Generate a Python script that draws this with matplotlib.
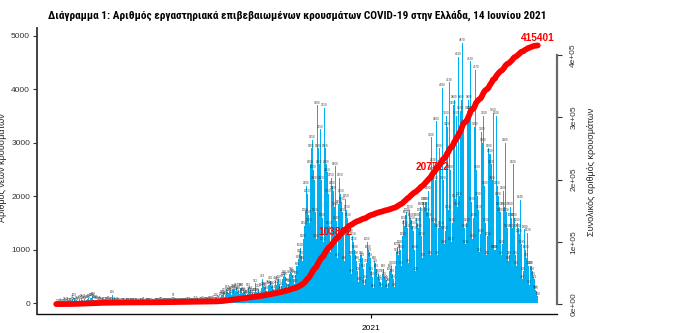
import numpy as np
import pandas as pd
import matplotlib
matplotlib.use("Agg")
import matplotlib.pyplot as plt
from matplotlib import font_manager

# ---------------- data ----------------
start_date = "2020-02-26"
cases_2020_02 = [1, 2, 0, 4]
cases_2020_03 = [0, 0, 0, 2, 22, 14, 4, 27, 11, 5, 10, 17, 73, 38, 103, 21, 56, 31, 46, 77,
                 43, 94, 71, 48, 78, 52, 71, 74, 95, 60, 102]
cases_2020_04 = [103, 129, 60, 62, 58, 62, 41, 33, 48, 25, 20, 40, 33, 22, 25, 23, 56, 10, 25, 40,
                 156, 16, 24, 15, 10, 22, 15, 12, 9, 5]
cases_2020_05 = [7, 12, 10, 7, 5, 10, 12, 10, 6, 10, 16, 20, 10, 9, 12, 9, 1, 3, 3, 16,
                 8, 29, 2, 3, 3, 10, 19, 13, 10, 9, 2]
cases_2020_06 = [1, 3, 5, 15, 17, 12, 20, 23, 33, 10, 16, 11, 10, 11, 10, 10, 14, 17, 22, 97,
                 36, 14, 11, 9, 11, 8, 12, 11, 14, 12]
cases_2020_07 = [10, 14, 12, 23, 13, 27, 18, 17, 16, 12, 41, 15, 44, 20, 18, 15, 33, 29, 43, 21,
                 26, 22, 34, 34, 40, 51, 25, 57, 26, 75, 36]
cases_2020_08 = [110, 34, 75, 45, 77, 120, 153, 151, 203, 121, 151, 262, 204, 191, 230, 217, 161, 269, 262, 235,
                 284, 210, 228, 168, 293, 284, 193, 213, 205, 168, 152]
cases_2020_09 = [169, 293, 218, 243, 168, 194, 125, 205, 372, 207, 196, 272, 151, 122, 294, 453, 319, 313, 302, 238,
                 146, 342, 338, 420, 320, 325, 254, 186, 416, 343]
cases_2020_10 = [400, 450, 360, 240, 320, 460, 500, 540, 490, 380, 280, 360, 540, 590, 560, 530, 450, 370, 520, 690,
                 820, 930, 1040, 890, 800, 1200, 1450, 1700, 2200, 2050, 1650]
cases_2020_11 = [1500, 2600, 2900, 3050, 2500, 2300, 1700, 1200, 3700, 2900, 2600, 3250, 2300, 1600, 1150, 3650,
                 2900, 2600, 2450, 2050, 1450, 950, 2350, 2200, 2100, 1800, 2560, 1540, 850, 1850]
cases_2020_12 = [2350, 2050, 1900, 1700, 1300, 800, 1950, 1750, 1600, 1400, 1300, 900, 550, 1250, 1150, 1000,
                 900, 800, 600, 400, 750, 900, 850, 650, 350, 450, 750, 1150, 1000, 950, 850]
cases_2021_01 = [600, 500, 280, 800, 750, 650, 500, 550, 450, 400, 300, 550, 650, 500, 450, 430, 280, 380,
                 600, 650, 700, 550, 450, 300, 700, 950, 1050, 900, 1100, 1000, 700]
cases_2021_02 = [1250, 1550, 1450, 1650, 1700, 1400, 750, 1750, 1600, 1550, 1450, 1350, 1000, 600, 1600, 1500,
                 1400, 1700, 1800, 1250, 850, 1900, 1800, 1900, 1700, 2100, 1600, 900]
cases_2021_03 = [3100, 2470, 2630, 1500, 2300, 3400, 900, 1400, 2900, 2600, 1450, 4030, 2300, 1100, 1350, 3500,
                 3300, 1750, 4130, 2500, 1150, 1500, 3700, 3800, 1950, 3500, 1800, 4610, 2000, 3600, 3800]
cases_2021_04 = [4870, 3300, 1400, 1100, 1500, 3600, 3800, 3600, 4520, 1900, 1200, 1600, 3300, 4370, 2500, 2000,
                 1750, 950, 1300, 3200, 3000, 3500, 2200, 1500, 900, 1250, 2900, 2800, 2600, 2300]
cases_2021_05 = [3560, 1000, 1000, 3500, 2200, 2000, 1800, 1700, 900, 1100, 2100, 1800, 3000, 1700, 1400, 800,
                 900, 1800, 1600, 1400, 2600, 1600, 900, 700, 1500, 1400, 1300, 1940, 1100, 450, 600]
cases_2021_06 = [1380, 1000, 850, 1320, 700, 350, 700, 700, 600, 500, 450, 250, 239, 130]

title = ("Διάγραμμα 1: Αριθμός εργαστηριακά επιβεβαιωμένων κρουσμάτων COVID-19 "
         "στην Ελλάδα, 14 Ιουνίου 2021")
ylabel_left = "Αριθμός νέων κρουσμάτων"
ylabel_right = "Συνολικός αριθμός κρουσμάτων"
left_ticks = [0, 1000, 2000, 3000, 4000, 5000]
right_ticks = [0, 100000, 200000, 300000, 400000]
right_tick_labels = ["0e+00", "1e+05", "2e+05", "3e+05", "4e+05"]
x_tick_date = "2021-01-01"
x_tick_label = "2021"

# ---------------- derived ----------------
daily = np.array(cases_2020_02 + cases_2020_03 + cases_2020_04 + cases_2020_05 + cases_2020_06 +
                 cases_2020_07 + cases_2020_08 + cases_2020_09 + cases_2020_10 + cases_2020_11 +
                 cases_2020_12 + cases_2021_01 + cases_2021_02 + cases_2021_03 + cases_2021_04 +
                 cases_2021_05 + cases_2021_06)
dates = pd.date_range(start_date, periods=len(daily), freq="D")
x = np.asarray((dates - dates[0]).days, dtype=float)
cumulative = np.cumsum(daily)
total = cumulative[-1]


def pick(*names):
    for n in names:
        try:
            font_manager.findfont(font_manager.FontProperties(family=n), fallback_to_default=False)
            return n
        except Exception:
            pass
    return "DejaVu Sans"


narrow = pick("Liberation Sans Narrow", "Roboto Condensed", "Liberation Sans")
regular = pick("Liberation Sans", "Arimo", "DejaVu Sans")
plt.rcParams["font.family"] = [regular, "DejaVu Sans"]

W, H = 682, 333
fig = plt.figure(figsize=(W / 100, H / 100), dpi=100)
L, R, B, T = 37, 557, 314, 28
ax = fig.add_axes([L / W, 1 - B / H, (R - L) / W, (B - T) / H])
ax2 = ax.twinx()

bar_color = "#00B0F0"
ax.bar(x, daily, width=1.0, color=bar_color, linewidth=0, zorder=2)
for xi, v in zip(x, daily):
    ax.text(xi, v + 12, str(v), fontsize=2.2, ha="center", va="bottom", color="#404040", zorder=3)

span = x[-1] - x[0]
ax.set_xlim(x[0] - 0.04 * span, x[-1] + 0.04 * span)
ax.set_ylim(-200, 5146)
ax2.set_ylim(-0.0384 * total, total * 1.0674)

# red cumulative line and its labels
for frac in (0.25, 0.5):
    i = int(np.argmax(cumulative >= total * frac))
    ax2.annotate(str(cumulative[i]), (x[i], cumulative[i]), xytext=(0, 2), textcoords="offset points",
                 ha="center", va="bottom", color="red", fontweight="bold", fontsize=7.3, zorder=2)
ax2.annotate(str(total), (x[-1], total), xytext=(0, 1.5), textcoords="offset points",
             ha="center", va="bottom", color="red", fontweight="bold", fontsize=7.3, zorder=2)
ax2.plot(x, cumulative, color="red", lw=4.2, solid_capstyle="round", zorder=3)

# axes styling
for s in ("top", "right"):
    ax.spines[s].set_visible(False)
for s in ("top", "left", "bottom"):
    ax2.spines[s].set_visible(False)
ax.spines["left"].set_color("#333333")
ax.spines["left"].set_linewidth(1.3)
ax.spines["bottom"].set_color("#111111")
ax.spines["bottom"].set_linewidth(1.0)
ax2.spines["right"].set_color("#6a6a6a")
ax2.spines["right"].set_linewidth(1.6)
ax2.spines["right"].set_bounds(right_ticks[0], right_ticks[-1])

ax.set_yticks(left_ticks)
ax.set_yticklabels([str(t) for t in left_ticks])
ax.tick_params(axis="y", direction="out", length=3, width=0.8, labelsize=6, pad=2, colors="#333333")
ax.set_xticks([(pd.Timestamp(x_tick_date) - dates[0]).days])
ax.set_xticklabels([x_tick_label])
ax.tick_params(axis="x", direction="out", length=3, width=0.8, labelsize=6, pad=5)

ax2.set_yticks(right_ticks)
ax2.set_yticklabels(right_tick_labels, rotation=90, va="center")
ax2.tick_params(axis="y", direction="out", length=3.5, width=0.8, labelsize=6, pad=6, colors="#333333")

fig.text(297 / W, 1 - 15 / H, title, ha="center", va="center", fontweight="bold",
         fontsize=8.15, family=[narrow, "DejaVu Sans"])
fig.text(3 / W, 1 - 168 / H, ylabel_left, rotation=90, ha="center", va="center", fontsize=6.5,
         color="#222222")
fig.text(591 / W, 1 - 172 / H, ylabel_right, rotation=90, ha="center", va="center", fontsize=6.5,
         color="#222222")

fig.savefig("out.png", dpi=100)
